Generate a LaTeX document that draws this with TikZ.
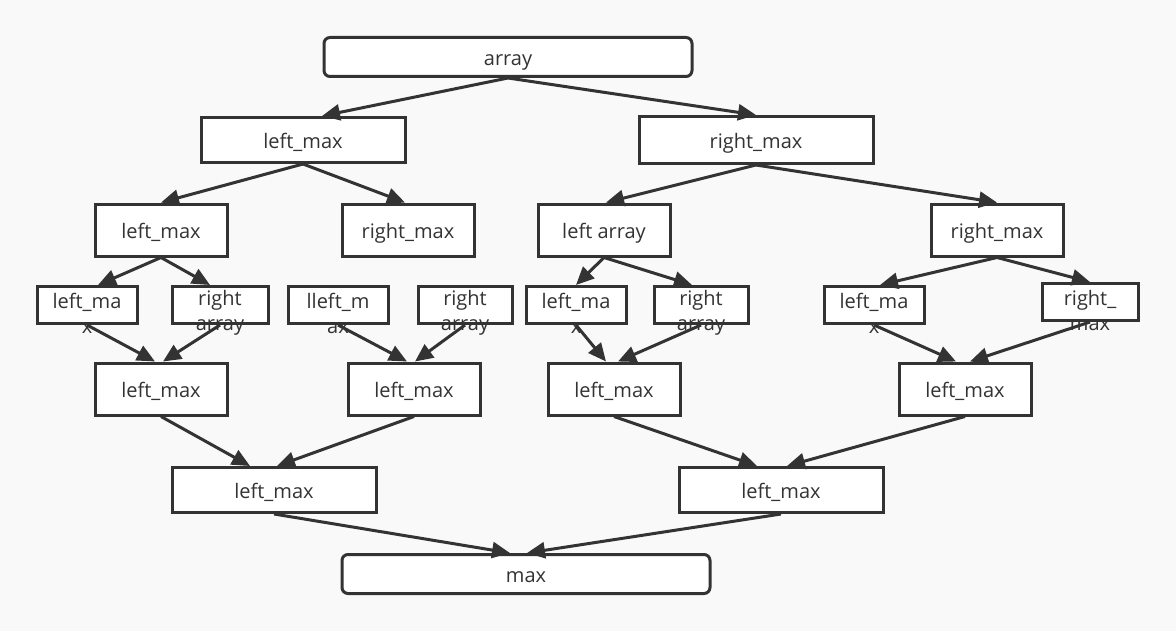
\documentclass[tikz,border=0pt]{standalone}
\usepackage{fontspec}
\setmainfont{Open Sans}
\usepackage{tikz}
\usetikzlibrary{arrows.meta,positioning}
\definecolor{boxc}{HTML}{333333}
\definecolor{bgc}{HTML}{F9F9F9}

\begin{document}
\begin{tikzpicture}[x=0.5pt,y=-0.5pt,
  box/.style={draw=boxc,line width=1.5pt,fill=white,inner sep=0pt,text=boxc,
    text height=8.5pt,text depth=0pt,font=\fontsize{10}{12.5}\selectfont},
  rbox/.style={box,rounded corners=3pt,minimum width=184pt,minimum height=19.5pt},
  wide/.style={box,minimum width=102pt,minimum height=22.5pt},
  mid/.style={box,minimum width=66pt,minimum height=26pt},
  small/.style={box,minimum width=50pt,minimum height=18.5pt},
  wrap/.style={align=center,inner sep=0pt,yshift=-4pt,text=boxc,
    font=\fontsize{10}{12.5}\selectfont},
  link/.style={-{Triangle[length=9pt,width=8pt]},line width=1.5pt,draw=boxc}]
\useasboundingbox[fill=bgc] (0,0) rectangle (1176,631);
% top and bottom
\node[rbox] (arr) at (508,57) {array};
\node[rbox] (mx) at (526,574) {max};
% first split
\node[wide] (lm) at (303,140) {left\_max};
\node[wide,minimum width=117pt,minimum height=23.5pt] (rm) at (756,140) {right\_max};
\node[mid] (lml) at (161,230) {left\_max};
\node[mid] (lmr) at (408,230) {right\_max};
\node[mid] (rml) at (604,230) {left array};
\node[mid] (rmr) at (997,230) {right\_max};
% small boxes
\node[small,label={[wrap]center:{left\_ma\\x}}] (s1) at (87,305) {};
\node[small,minimum width=48pt,label={[wrap]center:{right\\array}}] (s2) at (220,305) {};
\node[small,label={[wrap]center:{lleft\_m\\ax}}] (s3) at (338,305) {};
\node[small,minimum width=47pt,label={[wrap]center:{right\\array}}] (s4) at (465,305) {};
\node[small,label={[wrap]center:{left\_ma\\x}}] (s5) at (576,305) {};
\node[small,minimum width=47pt,label={[wrap]center:{right\\array}}] (s6) at (701,305) {};
\node[small,label={[wrap]center:{left\_ma\\x}}] (s7) at (874,305) {};
\node[small,minimum width=48pt,label={[wrap]center:{right\_\\max}}] (s8) at (1090,302) {};
% merge
\node[mid] (m1) at (161,389) {left\_max};
\node[mid] (m2) at (414,389) {left\_max};
\node[mid] (m3) at (614,389) {left\_max};
\node[mid] (m4) at (965,389) {left\_max};
\node[wide] (n1) at (274,490) {left\_max};
\node[wide] (n2) at (781,490) {left\_max};

\path (arr.south) edge[link] ([xshift=9.5pt]lm.north);
\path (arr.south) edge[link] (rm.north);
\path (lm.south) edge[link] (lml.north);
\path (lm.south) edge[link] ([xshift=-1.5pt]lmr.north);
\path (rm.south) edge[link] ([xshift=1pt]rml.north);
\path (rm.south) edge[link] (rmr.north);
\path (lml.south) edge[link] ([xshift=5.5pt]s1.north);
\path (lml.south) edge[link] ([xshift=-5pt]s2.north);
\path (rml.south) edge[link] (s5.north);
\path (rml.south) edge[link] ([xshift=-4.5pt]s6.north);
\path (rmr.south) edge[link] ([xshift=3pt]s7.north);
\path (rmr.south) edge[link] (s8.north);
\path (s1.south) edge[link] ([xshift=-3pt]m1.north);
\path (s2.south) edge[link] ([xshift=1pt]m1.north);
\path (s3.south) edge[link] ([xshift=-3.5pt]m2.north);
\path (s4.south) edge[link] ([xshift=0.5pt]m2.north);
\path (s5.south) edge[link] ([xshift=-4pt]m3.north);
\path (s6.south) edge[link] ([xshift=2pt]m3.north);
\path (s7.south) edge[link] ([xshift=-4.5pt]m4.north);
\path (s8.south) edge[link] ([xshift=2.5pt]m4.north);
\path (m1.south) edge[link] ([xshift=-12pt]n1.north);
\path (m2.south) edge[link] ([xshift=1.5pt]n1.north);
\path (m3.south) edge[link] ([xshift=-12pt]n2.north);
\path (m4.south) edge[link] ([xshift=3pt]n2.north);
\path (n1.south) edge[link] ([xshift=-8pt]mx.north);
\path (n2.south) edge[link] ([xshift=0.5pt]mx.north);
\end{tikzpicture}
\end{document}
